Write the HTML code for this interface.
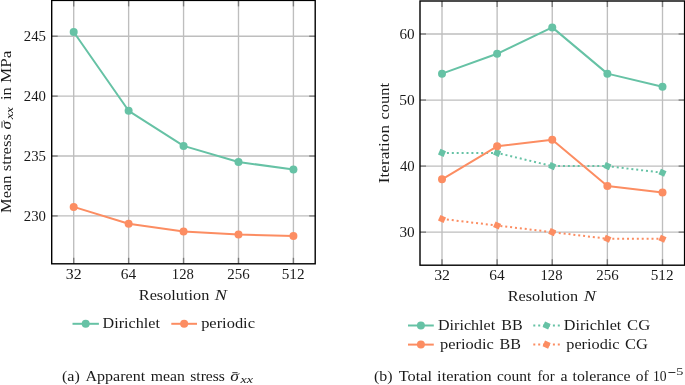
<!DOCTYPE html>
<html><head><meta charset="utf-8"><title>Figure</title>
<style>html,body{margin:0;padding:0;background:#fff;}svg{display:block;will-change:transform;}text{font-family:"Liberation Serif", serif;fill:#1a1a1a;}</style></head><body>
<svg width="685" height="385" viewBox="0 0 685 385">
<rect width="685" height="385" fill="#fff"/>
<line x1="73.70" y1="0.40" x2="73.70" y2="263.80" stroke="#bebebe" stroke-width="1.35"/>
<line x1="128.63" y1="0.40" x2="128.63" y2="263.80" stroke="#bebebe" stroke-width="1.35"/>
<line x1="183.56" y1="0.40" x2="183.56" y2="263.80" stroke="#bebebe" stroke-width="1.35"/>
<line x1="238.49" y1="0.40" x2="238.49" y2="263.80" stroke="#bebebe" stroke-width="1.35"/>
<line x1="293.42" y1="0.40" x2="293.42" y2="263.80" stroke="#bebebe" stroke-width="1.35"/>
<line x1="51.70" y1="36.25" x2="315.20" y2="36.25" stroke="#bebebe" stroke-width="1.35"/>
<line x1="51.70" y1="96.14" x2="315.20" y2="96.14" stroke="#bebebe" stroke-width="1.35"/>
<line x1="51.70" y1="156.02" x2="315.20" y2="156.02" stroke="#bebebe" stroke-width="1.35"/>
<line x1="51.70" y1="215.91" x2="315.20" y2="215.91" stroke="#bebebe" stroke-width="1.35"/>
<line x1="73.70" y1="0.40" x2="73.70" y2="6.40" stroke="#7a7a7a" stroke-width="1.35"/>
<line x1="73.70" y1="263.80" x2="73.70" y2="257.80" stroke="#7a7a7a" stroke-width="1.35"/>
<line x1="128.63" y1="0.40" x2="128.63" y2="6.40" stroke="#7a7a7a" stroke-width="1.35"/>
<line x1="128.63" y1="263.80" x2="128.63" y2="257.80" stroke="#7a7a7a" stroke-width="1.35"/>
<line x1="183.56" y1="0.40" x2="183.56" y2="6.40" stroke="#7a7a7a" stroke-width="1.35"/>
<line x1="183.56" y1="263.80" x2="183.56" y2="257.80" stroke="#7a7a7a" stroke-width="1.35"/>
<line x1="238.49" y1="0.40" x2="238.49" y2="6.40" stroke="#7a7a7a" stroke-width="1.35"/>
<line x1="238.49" y1="263.80" x2="238.49" y2="257.80" stroke="#7a7a7a" stroke-width="1.35"/>
<line x1="293.42" y1="0.40" x2="293.42" y2="6.40" stroke="#7a7a7a" stroke-width="1.35"/>
<line x1="293.42" y1="263.80" x2="293.42" y2="257.80" stroke="#7a7a7a" stroke-width="1.35"/>
<line x1="51.70" y1="36.25" x2="57.70" y2="36.25" stroke="#7a7a7a" stroke-width="1.35"/>
<line x1="315.20" y1="36.25" x2="309.20" y2="36.25" stroke="#7a7a7a" stroke-width="1.35"/>
<line x1="51.70" y1="96.14" x2="57.70" y2="96.14" stroke="#7a7a7a" stroke-width="1.35"/>
<line x1="315.20" y1="96.14" x2="309.20" y2="96.14" stroke="#7a7a7a" stroke-width="1.35"/>
<line x1="51.70" y1="156.02" x2="57.70" y2="156.02" stroke="#7a7a7a" stroke-width="1.35"/>
<line x1="315.20" y1="156.02" x2="309.20" y2="156.02" stroke="#7a7a7a" stroke-width="1.35"/>
<line x1="51.70" y1="215.91" x2="57.70" y2="215.91" stroke="#7a7a7a" stroke-width="1.35"/>
<line x1="315.20" y1="215.91" x2="309.20" y2="215.91" stroke="#7a7a7a" stroke-width="1.35"/>
<path d="M73.70,32.00 L128.63,110.80 L183.56,145.90 L238.49,162.00 L293.42,169.55" fill="none" stroke="#66c2a5" stroke-width="2" stroke-linejoin="round"/>
<circle cx="73.70" cy="32.00" r="4.0" fill="#66c2a5"/>
<circle cx="128.63" cy="110.80" r="4.0" fill="#66c2a5"/>
<circle cx="183.56" cy="145.90" r="4.0" fill="#66c2a5"/>
<circle cx="238.49" cy="162.00" r="4.0" fill="#66c2a5"/>
<circle cx="293.42" cy="169.55" r="4.0" fill="#66c2a5"/>
<path d="M73.70,206.90 L128.63,223.70 L183.56,231.50 L238.49,234.50 L293.42,235.90" fill="none" stroke="#fc8d62" stroke-width="2" stroke-linejoin="round"/>
<circle cx="73.70" cy="206.90" r="4.0" fill="#fc8d62"/>
<circle cx="128.63" cy="223.70" r="4.0" fill="#fc8d62"/>
<circle cx="183.56" cy="231.50" r="4.0" fill="#fc8d62"/>
<circle cx="238.49" cy="234.50" r="4.0" fill="#fc8d62"/>
<circle cx="293.42" cy="235.90" r="4.0" fill="#fc8d62"/>
<rect x="51.70" y="0.40" width="263.50" height="263.40" fill="none" stroke="#000000" stroke-width="1.4"/>
<text x="23.75" y="41.00" font-size="14.6" textLength="22.23" lengthAdjust="spacingAndGlyphs">245</text>
<text x="23.75" y="100.89" font-size="14.6" textLength="22.18" lengthAdjust="spacingAndGlyphs">240</text>
<text x="23.75" y="160.77" font-size="14.6" textLength="22.23" lengthAdjust="spacingAndGlyphs">235</text>
<text x="23.75" y="220.66" font-size="14.6" textLength="22.18" lengthAdjust="spacingAndGlyphs">230</text>
<text x="65.85" y="278.90" font-size="14.6" textLength="15.79" lengthAdjust="spacingAndGlyphs">32</text>
<text x="120.79" y="278.90" font-size="14.6" textLength="15.41" lengthAdjust="spacingAndGlyphs">64</text>
<text x="171.85" y="278.90" font-size="14.6" textLength="21.99" lengthAdjust="spacingAndGlyphs">128</text>
<text x="227.34" y="278.90" font-size="14.6" textLength="22.38" lengthAdjust="spacingAndGlyphs">256</text>
<text x="281.68" y="278.90" font-size="14.6" textLength="22.82" lengthAdjust="spacingAndGlyphs">512</text>
<text x="138.81" y="300.20" font-size="14.8" textLength="70.47" lengthAdjust="spacingAndGlyphs">Resolution</text>
<text x="214.88" y="300.20" font-size="14.8" textLength="12.15" lengthAdjust="spacingAndGlyphs" font-style="italic">N</text>
<g transform="translate(11.1,212.3) rotate(-90)">
<text x="-0.59" y="0.00" font-size="14.8" textLength="37.36" lengthAdjust="spacingAndGlyphs">Mean</text>
<text x="41.10" y="0.00" font-size="14.8" textLength="37.17" lengthAdjust="spacingAndGlyphs">stress</text>
<text x="82.92" y="0.00" font-size="14.8" textLength="8.59" lengthAdjust="spacingAndGlyphs" font-style="italic">σ</text>
<line x1="84.6" y1="-9.1" x2="90.8" y2="-9.1" stroke="#1a1a1a" stroke-width="0.9"/>
<text x="93.01" y="2.10" font-size="10.4" textLength="12.37" lengthAdjust="spacingAndGlyphs" font-style="italic">xx</text>
<text x="112.22" y="0.00" font-size="14.8" textLength="12.75" lengthAdjust="spacingAndGlyphs">in</text>
<text x="129.27" y="0.00" font-size="14.8" textLength="32.43" lengthAdjust="spacingAndGlyphs">MPa</text>
</g>
<line x1="72.50" y1="323.80" x2="98.90" y2="323.80" stroke="#66c2a5" stroke-width="2"/>
<circle cx="85.70" cy="323.80" r="4.0" fill="#66c2a5"/>
<text x="102.57" y="328.00" font-size="14.8" textLength="57.34" lengthAdjust="spacingAndGlyphs">Dirichlet</text>
<line x1="171.30" y1="323.80" x2="197.00" y2="323.80" stroke="#fc8d62" stroke-width="2"/>
<circle cx="184.15" cy="323.80" r="4.0" fill="#fc8d62"/>
<text x="201.15" y="328.00" font-size="14.8" textLength="53.82" lengthAdjust="spacingAndGlyphs">periodic</text>
<text x="61.98" y="381.20" font-size="14.2" textLength="17.82" lengthAdjust="spacingAndGlyphs">(a)</text>
<text x="85.49" y="381.20" font-size="14.2" textLength="59.64" lengthAdjust="spacingAndGlyphs">Apparent</text>
<text x="150.77" y="381.20" font-size="14.2" textLength="34.12" lengthAdjust="spacingAndGlyphs">mean</text>
<text x="190.24" y="381.20" font-size="14.2" textLength="34.70" lengthAdjust="spacingAndGlyphs">stress</text>
<text x="230.36" y="381.20" font-size="14.2" textLength="8.72" lengthAdjust="spacingAndGlyphs" font-style="italic">σ</text>
<line x1="232.3" y1="372.70" x2="237.6" y2="372.70" stroke="#1a1a1a" stroke-width="0.9"/>
<text x="240.64" y="383.00" font-size="9.984" textLength="12.48" lengthAdjust="spacingAndGlyphs" font-style="italic">xx</text>
<line x1="442.00" y1="1.00" x2="442.00" y2="265.20" stroke="#bebebe" stroke-width="1.35"/>
<line x1="497.12" y1="1.00" x2="497.12" y2="265.20" stroke="#bebebe" stroke-width="1.35"/>
<line x1="552.25" y1="1.00" x2="552.25" y2="265.20" stroke="#bebebe" stroke-width="1.35"/>
<line x1="607.38" y1="1.00" x2="607.38" y2="265.20" stroke="#bebebe" stroke-width="1.35"/>
<line x1="662.50" y1="1.00" x2="662.50" y2="265.20" stroke="#bebebe" stroke-width="1.35"/>
<line x1="420.00" y1="34.00" x2="684.60" y2="34.00" stroke="#bebebe" stroke-width="1.35"/>
<line x1="420.00" y1="100.05" x2="684.60" y2="100.05" stroke="#bebebe" stroke-width="1.35"/>
<line x1="420.00" y1="166.10" x2="684.60" y2="166.10" stroke="#bebebe" stroke-width="1.35"/>
<line x1="420.00" y1="232.15" x2="684.60" y2="232.15" stroke="#bebebe" stroke-width="1.35"/>
<line x1="442.00" y1="1.00" x2="442.00" y2="7.00" stroke="#7a7a7a" stroke-width="1.35"/>
<line x1="442.00" y1="265.20" x2="442.00" y2="259.20" stroke="#7a7a7a" stroke-width="1.35"/>
<line x1="497.12" y1="1.00" x2="497.12" y2="7.00" stroke="#7a7a7a" stroke-width="1.35"/>
<line x1="497.12" y1="265.20" x2="497.12" y2="259.20" stroke="#7a7a7a" stroke-width="1.35"/>
<line x1="552.25" y1="1.00" x2="552.25" y2="7.00" stroke="#7a7a7a" stroke-width="1.35"/>
<line x1="552.25" y1="265.20" x2="552.25" y2="259.20" stroke="#7a7a7a" stroke-width="1.35"/>
<line x1="607.38" y1="1.00" x2="607.38" y2="7.00" stroke="#7a7a7a" stroke-width="1.35"/>
<line x1="607.38" y1="265.20" x2="607.38" y2="259.20" stroke="#7a7a7a" stroke-width="1.35"/>
<line x1="662.50" y1="1.00" x2="662.50" y2="7.00" stroke="#7a7a7a" stroke-width="1.35"/>
<line x1="662.50" y1="265.20" x2="662.50" y2="259.20" stroke="#7a7a7a" stroke-width="1.35"/>
<line x1="420.00" y1="34.00" x2="426.00" y2="34.00" stroke="#7a7a7a" stroke-width="1.35"/>
<line x1="684.60" y1="34.00" x2="678.60" y2="34.00" stroke="#7a7a7a" stroke-width="1.35"/>
<line x1="420.00" y1="100.05" x2="426.00" y2="100.05" stroke="#7a7a7a" stroke-width="1.35"/>
<line x1="684.60" y1="100.05" x2="678.60" y2="100.05" stroke="#7a7a7a" stroke-width="1.35"/>
<line x1="420.00" y1="166.10" x2="426.00" y2="166.10" stroke="#7a7a7a" stroke-width="1.35"/>
<line x1="684.60" y1="166.10" x2="678.60" y2="166.10" stroke="#7a7a7a" stroke-width="1.35"/>
<line x1="420.00" y1="232.15" x2="426.00" y2="232.15" stroke="#7a7a7a" stroke-width="1.35"/>
<line x1="684.60" y1="232.15" x2="678.60" y2="232.15" stroke="#7a7a7a" stroke-width="1.35"/>
<path d="M442.00,73.63 L497.12,53.81 L552.25,27.39 L607.38,73.63 L662.50,86.84" fill="none" stroke="#66c2a5" stroke-width="2" stroke-linejoin="round"/>
<circle cx="442.00" cy="73.63" r="4.0" fill="#66c2a5"/>
<circle cx="497.12" cy="53.81" r="4.0" fill="#66c2a5"/>
<circle cx="552.25" cy="27.39" r="4.0" fill="#66c2a5"/>
<circle cx="607.38" cy="73.63" r="4.0" fill="#66c2a5"/>
<circle cx="662.50" cy="86.84" r="4.0" fill="#66c2a5"/>
<path d="M442.00,152.89 L497.12,152.89 L552.25,166.10 L607.38,166.10 L662.50,172.71" fill="none" stroke="#66c2a5" stroke-width="2" stroke-dasharray="2 2.9" stroke-linejoin="round"/>
<rect x="-3.05" y="-3.05" width="6.1" height="6.1" fill="#66c2a5" transform="translate(442.00,152.89) rotate(24)"/>
<rect x="-3.05" y="-3.05" width="6.1" height="6.1" fill="#66c2a5" transform="translate(497.12,152.89) rotate(24)"/>
<rect x="-3.05" y="-3.05" width="6.1" height="6.1" fill="#66c2a5" transform="translate(552.25,166.10) rotate(24)"/>
<rect x="-3.05" y="-3.05" width="6.1" height="6.1" fill="#66c2a5" transform="translate(607.38,166.10) rotate(24)"/>
<rect x="-3.05" y="-3.05" width="6.1" height="6.1" fill="#66c2a5" transform="translate(662.50,172.71) rotate(24)"/>
<path d="M442.00,179.31 L497.12,146.29 L552.25,139.68 L607.38,185.92 L662.50,192.52" fill="none" stroke="#fc8d62" stroke-width="2" stroke-linejoin="round"/>
<circle cx="442.00" cy="179.31" r="4.0" fill="#fc8d62"/>
<circle cx="497.12" cy="146.29" r="4.0" fill="#fc8d62"/>
<circle cx="552.25" cy="139.68" r="4.0" fill="#fc8d62"/>
<circle cx="607.38" cy="185.92" r="4.0" fill="#fc8d62"/>
<circle cx="662.50" cy="192.52" r="4.0" fill="#fc8d62"/>
<path d="M442.00,218.94 L497.12,225.55 L552.25,232.15 L607.38,238.76 L662.50,238.76" fill="none" stroke="#fc8d62" stroke-width="2" stroke-dasharray="2 2.9" stroke-linejoin="round"/>
<rect x="-3.05" y="-3.05" width="6.1" height="6.1" fill="#fc8d62" transform="translate(442.00,218.94) rotate(24)"/>
<rect x="-3.05" y="-3.05" width="6.1" height="6.1" fill="#fc8d62" transform="translate(497.12,225.55) rotate(24)"/>
<rect x="-3.05" y="-3.05" width="6.1" height="6.1" fill="#fc8d62" transform="translate(552.25,232.15) rotate(24)"/>
<rect x="-3.05" y="-3.05" width="6.1" height="6.1" fill="#fc8d62" transform="translate(607.38,238.76) rotate(24)"/>
<rect x="-3.05" y="-3.05" width="6.1" height="6.1" fill="#fc8d62" transform="translate(662.50,238.76) rotate(24)"/>
<rect x="420.00" y="1.00" width="264.60" height="264.20" fill="none" stroke="#000000" stroke-width="1.4"/>
<text x="399.50" y="38.75" font-size="14.6" textLength="15.16" lengthAdjust="spacingAndGlyphs">60</text>
<text x="399.25" y="104.80" font-size="14.6" textLength="15.43" lengthAdjust="spacingAndGlyphs">50</text>
<text x="399.93" y="170.85" font-size="14.6" textLength="14.72" lengthAdjust="spacingAndGlyphs">40</text>
<text x="399.41" y="236.90" font-size="14.6" textLength="15.26" lengthAdjust="spacingAndGlyphs">30</text>
<text x="434.15" y="280.30" font-size="14.6" textLength="15.79" lengthAdjust="spacingAndGlyphs">32</text>
<text x="489.29" y="280.30" font-size="14.6" textLength="15.41" lengthAdjust="spacingAndGlyphs">64</text>
<text x="540.54" y="280.30" font-size="14.6" textLength="21.99" lengthAdjust="spacingAndGlyphs">128</text>
<text x="596.22" y="280.30" font-size="14.6" textLength="22.38" lengthAdjust="spacingAndGlyphs">256</text>
<text x="650.76" y="280.30" font-size="14.6" textLength="22.82" lengthAdjust="spacingAndGlyphs">512</text>
<text x="507.66" y="301.10" font-size="14.8" textLength="70.47" lengthAdjust="spacingAndGlyphs">Resolution</text>
<text x="583.71" y="301.10" font-size="14.8" textLength="12.17" lengthAdjust="spacingAndGlyphs" font-style="italic">N</text>
<g transform="translate(388.7,182.6) rotate(-90)">
<text x="-0.60" y="0.00" font-size="14.8" textLength="58.22" lengthAdjust="spacingAndGlyphs">Iteration</text>
<text x="63.14" y="0.00" font-size="14.8" textLength="36.52" lengthAdjust="spacingAndGlyphs">count</text>
</g>
<line x1="408.00" y1="325.50" x2="433.80" y2="325.50" stroke="#66c2a5" stroke-width="2"/>
<circle cx="420.90" cy="325.50" r="4.0" fill="#66c2a5"/>
<text x="438.02" y="329.60" font-size="14.8" textLength="57.08" lengthAdjust="spacingAndGlyphs">Dirichlet</text>
<text x="501.22" y="329.60" font-size="14.8" textLength="21.36" lengthAdjust="spacingAndGlyphs">BB</text>
<line x1="533.30" y1="325.50" x2="559.90" y2="325.50" stroke="#66c2a5" stroke-width="2" stroke-dasharray="2 2.9"/>
<rect x="-3.05" y="-3.05" width="6.1" height="6.1" fill="#66c2a5" transform="translate(546.60,325.50) rotate(24)"/>
<text x="563.82" y="329.60" font-size="14.8" textLength="57.49" lengthAdjust="spacingAndGlyphs">Dirichlet</text>
<text x="627.04" y="329.60" font-size="14.8" textLength="23.16" lengthAdjust="spacingAndGlyphs">CG</text>
<line x1="408.00" y1="344.60" x2="433.80" y2="344.60" stroke="#fc8d62" stroke-width="2"/>
<circle cx="420.90" cy="344.60" r="4.0" fill="#fc8d62"/>
<text x="440.10" y="348.50" font-size="14.8" textLength="53.67" lengthAdjust="spacingAndGlyphs">periodic</text>
<text x="499.42" y="348.50" font-size="14.8" textLength="21.47" lengthAdjust="spacingAndGlyphs">BB</text>
<line x1="533.30" y1="344.60" x2="559.90" y2="344.60" stroke="#fc8d62" stroke-width="2" stroke-dasharray="2 2.9"/>
<rect x="-3.05" y="-3.05" width="6.1" height="6.1" fill="#fc8d62" transform="translate(546.60,344.60) rotate(24)"/>
<text x="566.25" y="348.50" font-size="14.8" textLength="53.31" lengthAdjust="spacingAndGlyphs">periodic</text>
<text x="625.05" y="348.50" font-size="14.8" textLength="22.83" lengthAdjust="spacingAndGlyphs">CG</text>
<text x="373.99" y="381.20" font-size="14.2" textLength="18.55" lengthAdjust="spacingAndGlyphs">(b)</text>
<text x="398.73" y="381.20" font-size="14.2" textLength="33.33" lengthAdjust="spacingAndGlyphs">Total</text>
<text x="437.10" y="381.20" font-size="14.2" textLength="54.54" lengthAdjust="spacingAndGlyphs">iteration</text>
<text x="496.98" y="381.20" font-size="14.2" textLength="34.37" lengthAdjust="spacingAndGlyphs">count</text>
<text x="537.42" y="381.20" font-size="14.2" textLength="17.20" lengthAdjust="spacingAndGlyphs">for</text>
<text x="560.41" y="381.20" font-size="14.2" textLength="7.04" lengthAdjust="spacingAndGlyphs">a</text>
<text x="572.50" y="381.20" font-size="14.2" textLength="57.95" lengthAdjust="spacingAndGlyphs">tolerance</text>
<text x="635.78" y="381.20" font-size="14.2" textLength="12.91" lengthAdjust="spacingAndGlyphs">of</text>
<text x="652.94" y="381.20" font-size="14.2" textLength="13.61" lengthAdjust="spacingAndGlyphs">10</text>
<line x1="668.4" y1="372.50" x2="675.4" y2="372.50" stroke="#1a1a1a" stroke-width="0.9"/>
<text x="676.23" y="375.40" font-size="11.4" textLength="7.13" lengthAdjust="spacingAndGlyphs">5</text>
</svg></body></html>
